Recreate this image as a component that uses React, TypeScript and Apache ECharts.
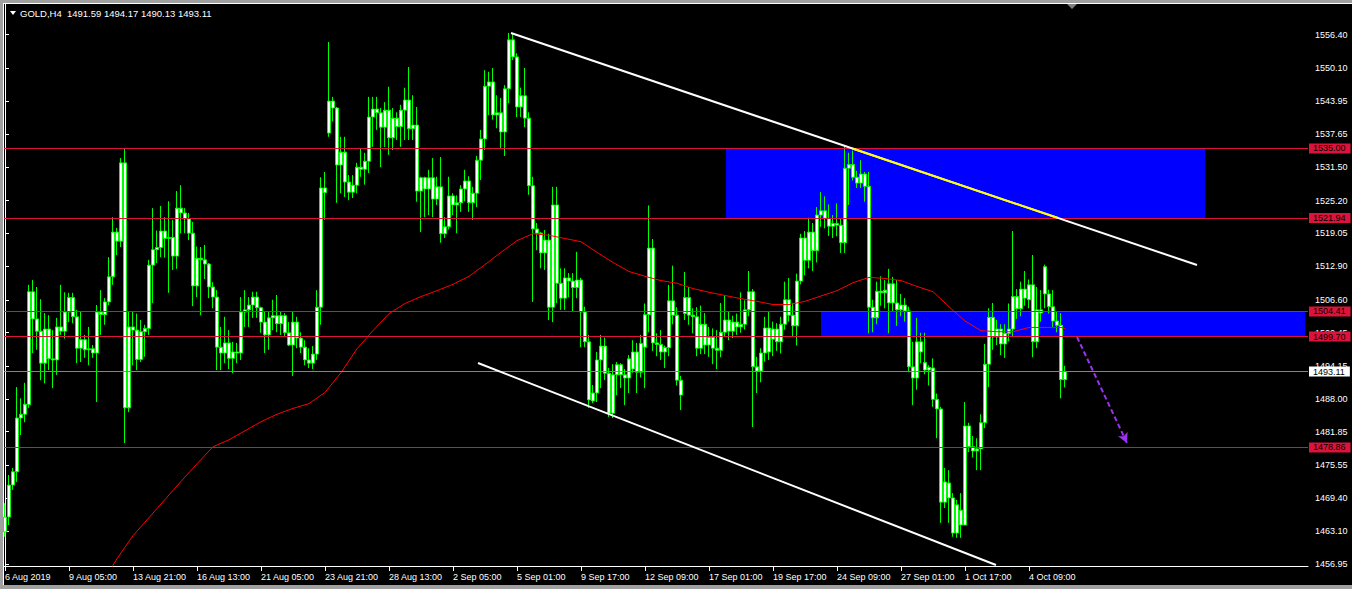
import { useEffect, useRef } from "react";
import * as echarts from "echarts";

// H4 bars, index 0 = first visible bar (6 Aug 2019)
const openPrices = [
  1463.0, 1465.8, 1471.8, 1474.3, 1484.4, 1485.1, 1486.9, 1508.1, 1503.0, 1500.7,
  1494.7, 1501.1, 1495.5, 1495.3, 1501.5, 1500.7, 1504.3, 1507.0, 1503.4, 1497.5,
  1499.1, 1497.2, 1497.4, 1496.6, 1504.3, 1503.8, 1506.2, 1510.9, 1519.3, 1517.6,
  1532.3, 1486.3, 1501.5, 1500.9, 1495.4, 1500.6, 1501.2, 1513.1, 1516.0, 1516.4,
  1519.5, 1518.1, 1518.3, 1514.8, 1523.8, 1522.9, 1521.8, 1519.1, 1509.2, 1514.4,
  1514.1, 1513.3, 1509.0, 1507.1, 1497.7, 1496.6, 1498.5, 1495.6, 1496.8, 1496.6,
  1504.3, 1504.7, 1505.6, 1507.1, 1505.1, 1502.4, 1500.0, 1503.2, 1503.6, 1502.1,
  1503.6, 1500.4, 1498.1, 1502.4, 1499.4, 1497.7, 1495.3, 1494.7, 1496.4, 1505.2,
  1527.6, 1537.9, 1543.9, 1542.6, 1531.9, 1534.3, 1528.7, 1526.8, 1528.1, 1531.5,
  1531.1, 1532.6, 1540.9, 1542.4, 1541.7, 1539.0, 1542.2, 1537.0, 1540.7, 1539.1,
  1542.2, 1544.1, 1538.7, 1539.4, 1527.0, 1529.5, 1527.4, 1529.5, 1525.5, 1527.8,
  1519.0, 1520.3, 1526.1, 1524.4, 1524.8, 1527.4, 1528.9, 1524.8, 1526.6, 1532.8,
  1536.8, 1546.7, 1547.5, 1541.3, 1541.7, 1538.1, 1546.2, 1555.4, 1552.2, 1542.8,
  1544.9, 1540.7, 1528.0, 1519.9, 1519.1, 1515.4, 1517.8, 1505.2, 1524.4, 1509.7,
  1506.9, 1510.7, 1510.1, 1508.9, 1510.3, 1504.3, 1498.7, 1487.6, 1489.1, 1495.3,
  1497.9, 1492.8, 1485.3, 1492.5, 1494.4, 1492.5, 1491.9, 1493.6, 1496.8, 1493.0,
  1497.7, 1503.8, 1516.3, 1498.5, 1498.2, 1496.8, 1497.6, 1506.4, 1503.7, 1491.5,
  1504.0, 1507.0, 1503.7, 1503.4, 1497.5, 1502.0, 1498.1, 1499.5, 1497.5, 1497.1,
  1500.5, 1502.8, 1500.7, 1502.4, 1501.5, 1502.0, 1504.7, 1508.1, 1494.0, 1493.2,
  1496.6, 1501.3, 1499.2, 1501.1, 1498.7, 1502.0, 1506.6, 1503.7, 1501.7, 1510.1,
  1518.2, 1514.0, 1519.3, 1515.8, 1522.5, 1523.3, 1521.9, 1520.4, 1520.9, 1520.6,
  1517.3, 1531.3, 1532.0, 1529.6, 1528.5, 1530.2, 1527.9, 1505.2, 1503.2, 1508.2,
  1507.9, 1509.6, 1506.0, 1506.0, 1504.7, 1505.6, 1504.5, 1494.0, 1491.9, 1498.7,
  1494.8, 1493.4, 1493.8, 1487.9, 1486.1, 1468.6, 1472.2, 1469.4, 1462.8, 1467.1,
  1464.3, 1482.9, 1479.0, 1478.2, 1478.6, 1483.5, 1494.5, 1503.3, 1499.6, 1501.1,
  1498.3, 1500.3, 1501.1, 1507.2, 1504.9, 1508.6, 1506.6, 1509.4, 1498.7, 1504.7,
  1507.7, 1507.7, 1505.3, 1502.6, 1501.8, 1491.59,
];

const highPrices = [
  1468.4, 1473.7, 1475.0, 1490.2, 1488.1, 1491.0, 1509.4, 1510.3, 1509.0, 1506.7,
  1504.1, 1503.7, 1500.9, 1503.2, 1509.4, 1508.0, 1507.9, 1507.9, 1504.7, 1504.3,
  1500.0, 1501.5, 1498.1, 1505.6, 1508.4, 1506.9, 1514.6, 1522.1, 1520.1, 1533.2,
  1534.9, 1504.3, 1504.3, 1504.0, 1502.8, 1501.9, 1514.1, 1523.8, 1519.6, 1524.2,
  1522.1, 1525.1, 1521.6, 1527.0, 1528.1, 1523.8, 1522.9, 1521.2, 1516.6, 1516.5,
  1516.9, 1513.5, 1509.9, 1508.4, 1501.5, 1503.4, 1500.9, 1498.7, 1498.5, 1507.1,
  1508.4, 1507.1, 1508.1, 1508.1, 1505.3, 1504.3, 1504.3, 1506.6, 1507.5, 1504.3,
  1504.1, 1502.4, 1504.3, 1503.4, 1500.5, 1499.0, 1497.5, 1497.9, 1508.4, 1529.6,
  1530.6, 1555.0, 1544.7, 1542.8, 1537.2, 1537.2, 1530.0, 1530.0, 1532.3, 1535.1,
  1534.2, 1544.7, 1544.7, 1544.7, 1542.6, 1543.7, 1546.6, 1542.6, 1541.8, 1543.2,
  1546.4, 1550.3, 1545.0, 1542.8, 1529.7, 1529.7, 1531.0, 1533.2, 1529.7, 1533.4,
  1522.1, 1529.7, 1526.6, 1526.2, 1528.1, 1531.0, 1529.8, 1527.8, 1533.6, 1538.5,
  1549.7, 1549.4, 1550.1, 1545.0, 1544.5, 1546.9, 1556.7, 1556.7, 1552.9, 1546.4,
  1550.1, 1541.8, 1529.7, 1521.0, 1519.3, 1519.7, 1519.0, 1527.8, 1527.8, 1512.5,
  1512.5, 1511.6, 1511.6, 1515.6, 1510.7, 1505.3, 1500.0, 1490.6, 1496.8, 1500.0,
  1499.5, 1493.8, 1494.5, 1494.9, 1494.7, 1493.6, 1496.2, 1499.0, 1498.5, 1500.0,
  1505.9, 1524.3, 1518.0, 1500.3, 1500.9, 1498.0, 1509.4, 1513.0, 1505.2, 1492.3,
  1511.8, 1509.0, 1505.0, 1505.2, 1505.5, 1504.1, 1501.5, 1501.2, 1500.9, 1506.0,
  1507.5, 1504.3, 1503.6, 1504.0, 1508.0, 1506.5, 1512.0, 1508.6, 1495.9, 1497.5,
  1503.4, 1504.3, 1502.5, 1502.2, 1503.4, 1510.0, 1510.7, 1506.0, 1511.5, 1519.0,
  1519.5, 1522.0, 1521.0, 1524.0, 1526.8, 1526.0, 1524.5, 1522.5, 1524.7, 1521.9,
  1535.6, 1534.2, 1534.6, 1530.8, 1532.8, 1530.6, 1530.6, 1506.6, 1510.0, 1511.0,
  1510.3, 1512.4, 1510.9, 1510.3, 1507.7, 1506.9, 1505.3, 1498.7, 1503.2, 1500.4,
  1500.4, 1494.3, 1495.6, 1489.0, 1486.5, 1475.0, 1474.6, 1470.3, 1469.0, 1470.3,
  1487.4, 1483.5, 1481.0, 1480.6, 1485.1, 1498.3, 1505.0, 1506.0, 1502.8, 1502.0,
  1502.0, 1505.9, 1519.5, 1508.6, 1510.0, 1512.0, 1510.4, 1515.0, 1509.0, 1508.4,
  1513.2, 1508.5, 1508.4, 1504.5, 1504.1, 1494.17,
];

const lowPrices = [
  1462.1, 1464.3, 1470.9, 1472.4, 1481.2, 1483.6, 1486.3, 1496.6, 1497.2, 1491.5,
  1490.9, 1493.4, 1490.0, 1492.5, 1500.0, 1499.3, 1502.4, 1502.2, 1494.7, 1494.9,
  1495.7, 1494.3, 1495.7, 1487.4, 1500.0, 1501.9, 1505.6, 1509.4, 1515.0, 1516.5,
  1479.7, 1485.5, 1494.3, 1493.4, 1494.9, 1495.9, 1500.0, 1506.0, 1513.5, 1514.6,
  1514.5, 1507.9, 1512.2, 1512.4, 1519.1, 1519.1, 1517.8, 1505.4, 1507.1, 1503.7,
  1510.5, 1506.9, 1505.0, 1493.4, 1493.4, 1494.7, 1493.6, 1492.8, 1494.7, 1495.3,
  1501.5, 1501.5, 1503.2, 1503.2, 1500.4, 1496.6, 1497.2, 1500.9, 1500.5, 1500.0,
  1499.6, 1497.9, 1492.3, 1497.5, 1496.6, 1494.3, 1493.8, 1493.6, 1495.3, 1501.9,
  1521.6, 1537.2, 1540.1, 1524.8, 1526.6, 1525.9, 1525.3, 1525.7, 1526.6, 1529.7,
  1528.2, 1530.4, 1535.3, 1538.5, 1531.5, 1535.3, 1533.8, 1534.7, 1536.6, 1535.3,
  1536.6, 1536.6, 1536.6, 1525.0, 1519.3, 1522.1, 1522.5, 1522.1, 1524.4, 1517.3,
  1518.2, 1519.8, 1522.5, 1519.1, 1523.1, 1525.1, 1523.1, 1521.6, 1524.0, 1529.1,
  1534.7, 1541.3, 1540.4, 1538.8, 1535.1, 1533.6, 1543.5, 1551.6, 1540.9, 1540.9,
  1539.0, 1526.3, 1506.2, 1515.9, 1512.5, 1512.2, 1502.8, 1502.4, 1506.0, 1504.7,
  1504.7, 1507.1, 1504.3, 1506.9, 1497.7, 1497.7, 1486.3, 1487.2, 1487.4, 1490.0,
  1491.5, 1484.6, 1484.4, 1488.7, 1490.0, 1486.8, 1489.1, 1492.9, 1489.1, 1492.0,
  1490.0, 1500.5, 1497.0, 1496.0, 1495.3, 1493.8, 1496.0, 1502.0, 1490.5, 1485.9,
  1502.8, 1501.9, 1500.3, 1496.0, 1496.4, 1496.4, 1495.9, 1494.5, 1493.6, 1495.8,
  1499.6, 1499.0, 1499.4, 1500.0, 1500.4, 1501.0, 1503.5, 1482.7, 1489.1, 1491.1,
  1495.0, 1495.3, 1496.0, 1497.0, 1496.5, 1501.0, 1502.5, 1499.6, 1498.0, 1509.5,
  1511.2, 1512.5, 1512.0, 1513.6, 1520.3, 1520.0, 1518.6, 1518.2, 1518.5, 1515.4,
  1515.4, 1524.4, 1529.0, 1527.6, 1527.6, 1525.0, 1500.3, 1500.5, 1502.0, 1505.5,
  1505.0, 1500.3, 1504.5, 1501.7, 1503.5, 1502.5, 1493.0, 1486.8, 1489.7, 1494.7,
  1492.6, 1490.5, 1486.5, 1480.6, 1464.7, 1467.5, 1464.7, 1462.1, 1461.9, 1461.9,
  1464.3, 1478.0, 1477.0, 1474.6, 1474.6, 1482.5, 1490.2, 1497.2, 1498.1, 1496.2,
  1495.7, 1498.8, 1499.6, 1503.0, 1503.5, 1505.5, 1505.0, 1495.8, 1497.5, 1502.5,
  1505.0, 1504.0, 1501.5, 1500.5, 1488.1, 1490.13,
];

const closePrices = [
  1465.8, 1471.8, 1474.3, 1484.4, 1485.1, 1487.0, 1508.1, 1503.0, 1500.7, 1494.7,
  1501.1, 1495.5, 1495.3, 1501.5, 1500.7, 1504.3, 1507.0, 1503.4, 1497.5, 1499.1,
  1497.2, 1497.4, 1496.6, 1504.3, 1503.8, 1506.2, 1510.9, 1519.3, 1517.6, 1532.3,
  1486.3, 1501.5, 1500.9, 1495.4, 1500.6, 1501.2, 1513.1, 1516.0, 1516.4, 1519.5,
  1518.1, 1518.3, 1514.8, 1523.8, 1522.9, 1521.8, 1519.1, 1509.2, 1514.4, 1514.1,
  1513.3, 1509.0, 1507.1, 1497.7, 1496.6, 1498.5, 1495.6, 1496.8, 1496.6, 1504.3,
  1504.7, 1505.6, 1507.1, 1505.1, 1502.4, 1500.0, 1503.2, 1503.6, 1502.1, 1503.6,
  1500.4, 1498.1, 1502.4, 1499.4, 1497.7, 1495.3, 1494.7, 1496.4, 1505.2, 1527.6,
  1526.7, 1543.9, 1542.6, 1531.9, 1534.3, 1528.7, 1526.8, 1528.1, 1531.5, 1531.1,
  1532.6, 1540.9, 1542.4, 1541.7, 1539.0, 1542.2, 1537.0, 1540.7, 1539.1, 1542.2,
  1544.1, 1538.7, 1539.4, 1527.0, 1529.5, 1527.4, 1529.5, 1525.5, 1527.8, 1519.0,
  1520.3, 1526.1, 1524.4, 1524.8, 1527.4, 1528.9, 1524.8, 1526.6, 1532.8, 1536.8,
  1546.7, 1547.5, 1541.3, 1541.7, 1538.1, 1546.2, 1555.4, 1552.2, 1542.8, 1544.9,
  1540.7, 1528.0, 1519.9, 1519.1, 1515.4, 1517.8, 1505.2, 1524.4, 1509.7, 1506.9,
  1510.7, 1510.1, 1508.9, 1510.3, 1504.3, 1498.7, 1487.8, 1489.1, 1495.3, 1497.9,
  1492.8, 1485.3, 1492.5, 1494.4, 1492.5, 1491.9, 1495.5, 1496.8, 1493.0, 1498.4,
  1503.8, 1516.3, 1498.5, 1498.2, 1496.8, 1497.6, 1506.4, 1503.7, 1491.5, 1488.7,
  1507.0, 1503.7, 1503.4, 1497.5, 1502.0, 1498.1, 1499.5, 1497.5, 1497.1, 1500.5,
  1502.8, 1500.7, 1502.4, 1501.5, 1502.0, 1504.7, 1508.1, 1494.0, 1493.2, 1496.6,
  1501.3, 1496.8, 1501.1, 1498.7, 1502.0, 1506.6, 1503.7, 1501.7, 1510.1, 1518.2,
  1514.0, 1519.3, 1515.8, 1522.5, 1523.3, 1521.9, 1520.4, 1520.9, 1520.6, 1517.3,
  1531.3, 1532.0, 1529.6, 1528.5, 1530.2, 1527.9, 1505.2, 1503.2, 1508.2, 1507.9,
  1508.4, 1506.0, 1509.6, 1504.7, 1505.6, 1504.5, 1494.0, 1491.9, 1498.7, 1496.8,
  1493.4, 1493.9, 1487.9, 1486.1, 1468.6, 1472.4, 1469.4, 1462.8, 1468.1, 1464.3,
  1482.9, 1479.0, 1478.2, 1478.6, 1483.5, 1494.5, 1503.3, 1499.6, 1501.1, 1498.3,
  1500.3, 1501.1, 1507.2, 1504.9, 1508.6, 1506.9, 1509.4, 1498.7, 1504.7, 1504.1,
  1512.8, 1505.3, 1502.6, 1501.8, 1491.6, 1493.11,
];

// Moving average readings: [bar index, price]
const movingAverage = [
  [24, 1453.0], [28, 1458.0], [32, 1462.3], [36, 1465.7], [40, 1469.1], [44, 1472.5],
  [48, 1475.8], [52, 1479.0], [56, 1480.3], [60, 1482.0], [64, 1483.7], [68, 1485.1],
  [72, 1486.2], [76, 1487.1], [80, 1489.2], [84, 1492.9], [88, 1497.4], [92, 1500.8],
  [96, 1504.0], [100, 1505.9], [104, 1507.2], [108, 1508.3], [112, 1509.5], [116, 1511.0],
  [120, 1513.2], [124, 1515.5], [128, 1517.7], [132, 1519.0], [136, 1518.7], [140, 1518.1],
  [144, 1517.5], [148, 1515.5], [152, 1513.6], [156, 1511.9], [160, 1511.0], [164, 1510.2],
  [168, 1509.7], [172, 1508.7], [176, 1508.0], [180, 1507.4], [184, 1506.8], [188, 1506.3],
  [192, 1505.7], [196, 1505.7], [200, 1506.3], [204, 1507.3], [208, 1508.3], [212, 1509.8],
  [216, 1510.8], [220, 1510.6], [224, 1510.2], [228, 1509.1], [232, 1508.1], [236, 1505.3],
  [240, 1502.6], [244, 1500.8], [248, 1500.6], [252, 1500.6], [256, 1501.4], [260, 1501.4],
  [264, 1501.4], [265, 1501.2],
];

const timeLabels = [
  "6 Aug 2019", "9 Aug 05:00", "13 Aug 21:00", "16 Aug 13:00", "21 Aug 05:00",
  "23 Aug 21:00", "28 Aug 13:00", "2 Sep 05:00", "5 Sep 01:00", "9 Sep 17:00",
  "12 Sep 09:00", "17 Sep 01:00", "19 Sep 17:00", "24 Sep 09:00", "27 Sep 01:00",
  "1 Oct 17:00", "4 Oct 09:00",
];
const timeLabelBars = [0, 16, 32, 48, 64, 80, 96, 112, 128, 144, 160, 176, 192, 208, 224, 240, 256];

const priceTicks = [
  1456.95, 1463.1, 1469.4, 1475.55, 1481.85, 1488.0, 1494.15, 1500.45, 1506.6,
  1512.9, 1519.05, 1525.2, 1531.5, 1537.65, 1543.95, 1550.1, 1556.4,
];

// horizontal levels drawn across the chart
const resistanceLevels = [1535.0, 1521.94, 1504.41, 1499.7, 1478.86];
const bidPrice = 1493.11;

// zones: [fromBar, toBar, lowPrice, highPrice]
const zones = [
  [180.25, 300, 1521.94, 1535.0],
  [204, 325, 1499.7, 1504.41],
];

// trend lines: [[bar, price], [bar, price]]
const upperTrend = [[126.5, 1556.68], [298, 1513.12]];
const lowerTrend = [[118.25, 1494.72], [247.75, 1456.8]];
const projection = [[268, 1499.6], [280.5, 1479.7]];

const FONT = "'Liberation Sans', Arial, sans-serif";
const LIME = "#00ff00";
const CRIMSON = "#dc143c";

function priceOnLine(line: number[][], bar: number) {
  const [[x1, y1], [x2, y2]] = line;
  return y1 + ((bar - x1) * (y2 - y1)) / (x2 - x1);
}
function barOnLine(line: number[][], price: number) {
  const [[x1, y1], [x2, y2]] = line;
  return x1 + ((price - y1) * (x2 - x1)) / (y2 - y1);
}

export default function App() {
  const ref = useRef<HTMLDivElement>(null);

  useEffect(() => {
    if (!ref.current) return;
    const chart = echarts.init(ref.current, null, { renderer: "svg" });

    const candles = openPrices.map((o, i) => [i, o, closePrices[i], lowPrices[i], highPrices[i]]);

    // part of the upper trend line that crosses the first zone is shown in yellow
    const z = zones[0];
    const yStart = Math.max(barOnLine(upperTrend, z[3]), z[0]);
    const yEnd = Math.min(barOnLine(upperTrend, z[2]), z[1]);
    const yellowPart = [
      [yStart, priceOnLine(upperTrend, yStart)],
      [yEnd, priceOnLine(upperTrend, yEnd)],
    ];

    const tagLabel = (text: string, bg: string) => ({
      show: true,
      position: "end",
      distance: 1,
      formatter: () => text,
      color: "#000",
      backgroundColor: bg,
      padding: [1, 5, 0, 4],
      fontSize: 9,
      lineHeight: 9,
      fontFamily: FONT,
    });

    const levelLines = resistanceLevels.map((v) => ({
      yAxis: v,
      lineStyle: { color: CRIMSON, width: 1, type: "solid" },
      label: tagLabel(v.toFixed(2), CRIMSON),
    }));

    const bidLine = {
      yAxis: bidPrice,
      lineStyle: { color: "#778899", width: 1, type: "solid" },
      label: tagLabel(bidPrice.toFixed(2), "#ffffff"),
    };

    const seg = (pts: number[][], color: string, width: number, type: any = "solid") => [
      { coord: pts[0], lineStyle: { color, width, type } },
      { coord: pts[1] },
    ];

    const labelByBar: Record<number, string> = {};
    timeLabelBars.forEach((b, i) => (labelByBar[b] = timeLabels[i]));

    chart.setOption({
      animation: false,
      backgroundColor: "#000000",
      textStyle: { fontFamily: FONT },
      grid: { left: 4, top: 4, width: 1304, height: 562, show: false },
      xAxis: {
        type: "value",
        min: -0.25,
        max: 325.75,
        splitLine: { show: false },
        axisLine: { show: true, lineStyle: { color: "#ffffff", width: 1 } },
        axisTick: { show: true, customValues: timeLabelBars, length: 5, lineStyle: { color: "#ffffff" } },
        axisLabel: {
          show: true,
          customValues: timeLabelBars,
          formatter: (v: number) => labelByBar[Math.round(v)] ?? "",
          color: "#ffffff",
          fontSize: 9,
          fontFamily: FONT,
          align: "left",
          margin: 6,
        },
      },
      yAxis: {
        type: "value",
        position: "right",
        min: 1456.61,
        max: 1562.13,
        splitLine: { show: false },
        axisLine: { show: true, lineStyle: { color: "#ffffff", width: 1 } },
        axisTick: { show: true, customValues: priceTicks, length: 4, lineStyle: { color: "#ffffff" } },
        axisLabel: {
          show: true,
          customValues: priceTicks,
          formatter: (v: number) => v.toFixed(2),
          color: "#ffffff",
          fontSize: 9,
          fontFamily: FONT,
          margin: 7,
        },
      },
      graphic: [
        { type: "rect", shape: { x: 0, y: 0, width: 1352, height: 3 }, style: { fill: "#a0a0a0" }, silent: true },
        { type: "rect", shape: { x: 0, y: 0, width: 3, height: 589 }, style: { fill: "#a0a0a0" }, silent: true },
        { type: "rect", shape: { x: 0, y: 585, width: 1352, height: 4 }, style: { fill: "#a0a0a0" }, silent: true },
        { type: "line", shape: { x1: 3, y1: 3.5, x2: 1352, y2: 3.5 }, style: { stroke: "#ffffff", lineWidth: 1 }, silent: true },
        { type: "line", shape: { x1: 3.5, y1: 3, x2: 3.5, y2: 585 }, style: { stroke: "#ffffff", lineWidth: 1 }, silent: true },
        { type: "polygon", shape: { points: [[1067, 4], [1077, 4], [1072, 9]] }, style: { fill: "#808080" }, silent: true },
        { type: "polygon", shape: { points: [[10, 11], [16, 11], [13, 15]] }, style: { fill: "#ffffff" }, silent: true },
        {
          type: "text",
          x: 20,
          y: 13,
          style: {
            text: "GOLD,H4  1491.59 1494.17 1490.13 1493.11",
            fill: "#ffffff",
            font: `9.5px ${FONT}`,
            verticalAlign: "middle",
          },
          silent: true,
        },
      ],
      series: [
        {
          name: "GOLD,H4",
          type: "candlestick",
          data: candles,
          barWidth: 3,
          z: 2,
          itemStyle: {
            color: "#ffffff",
            color0: "#ffffff",
            borderColor: LIME,
            borderColor0: LIME,
            borderWidth: 1,
          },
          markArea: {
            silent: true,
            itemStyle: { color: "#0000ff", opacity: 1 },
            data: zones.map(([x1, x2, lo, hi]) => [
              { coord: [x1, hi], itemStyle: { color: "#0000ff", opacity: 1 } },
              { coord: [x2, lo] },
            ]),
          },
          markLine: {
            silent: true,
            symbol: ["none", "none"],
            label: { show: false },
            data: [
              ...levelLines,
              bidLine,
              seg(upperTrend, "#ffffff", 2),
              seg(lowerTrend, "#ffffff", 2),
              seg(yellowPart, "#ffff00", 2),
              [
                { coord: projection[0], symbol: "none", lineStyle: { color: "#9a32f0", width: 2, type: [5, 3] } },
                { coord: projection[1], symbol: "arrow", symbolSize: [8, 10] },
              ],
            ],
          },
        },
        {
          name: "MA",
          type: "line",
          data: movingAverage,
          showSymbol: false,
          symbol: "none",
          z: 3,
          clip: true,
          lineStyle: { color: "#ff0000", width: 1 },
        },
      ],
    });

    return () => chart.dispose();
  }, []);

  return <div ref={ref} style={{ position: "absolute", left: 0, top: 0, width: 1352, height: 589 }} />;
}
